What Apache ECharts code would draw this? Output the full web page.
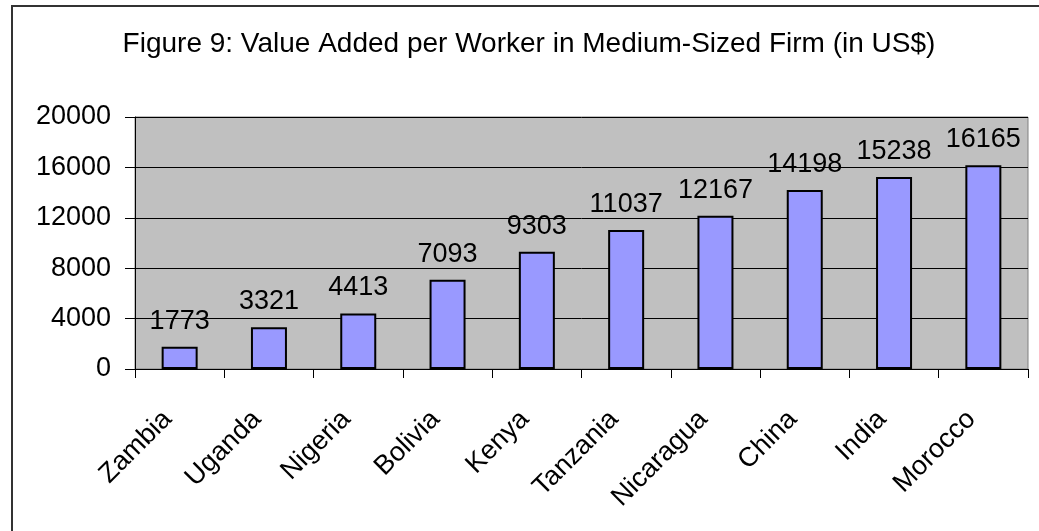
<!DOCTYPE html>
<html>
<head>
<meta charset="utf-8">
<script src="https://cdn.jsdelivr.net/npm/echarts@6/dist/echarts.min.js"></script>
<style>
  html, body { margin: 0; padding: 0; background: #fff; }
  #chart { width: 1039px; height: 531px; }
</style>
</head>
<body>
<div id="chart"></div>
<script>
// 国家（类目）
var countries = ['Zambia', 'Uganda', 'Nigeria', 'Bolivia', 'Kenya', 'Tanzania', 'Nicaragua', 'China', 'India', 'Morocco'];
// 每名工人增加值 (US$)
var valueAdded = [1773, 3321, 4413, 7093, 9303, 11037, 12167, 14198, 15238, 16165];
// Y 轴刻度
var yTicks = [0, 4000, 8000, 12000, 16000, 20000];

var chart = echarts.init(document.getElementById('chart'));
var font = 'Liberation Sans, Arial, sans-serif';

var options = {
  animation: false,
  backgroundColor: '#fff',
  // 外框（只看得到上边和左边）
  graphic: [
    {
      type: 'rect',
      shape: { x: 12, y: 6, width: 1200, height: 700 },
      style: { fill: 'none', stroke: '#333', lineWidth: 2 },
      silent: true
    }
  ],
  title: {
    text: 'Figure 9: Value Added per Worker in Medium-Sized Firm (in US$)',
    left: 524,
    textAlign: 'center',
    top: 25,
    textStyle: { color: '#000', fontSize: 28, fontWeight: 'normal', fontFamily: font }
  },
  grid: {
    left: 135,
    top: 117,
    right: 11,
    bottom: 162,
    show: true,
    backgroundColor: '#C0C0C0',
    borderColor: '#808080',
    borderWidth: 1
  },
  xAxis: {
    type: 'category',
    data: countries,
    axisLine: { lineStyle: { color: '#000', width: 1 } },
    axisTick: { show: true, length: 9, lineStyle: { color: '#000' } },
    axisLabel: {
      rotate: 45,
      interval: 0,
      margin: 34,
      padding: [0, 17, 0, 0],
      color: '#000',
      fontSize: 27,
      fontFamily: font
    }
  },
  yAxis: {
    type: 'value',
    min: yTicks[0],
    max: yTicks[yTicks.length - 1],
    interval: 4000,
    axisLine: { show: true, lineStyle: { color: '#000', width: 1 } },
    axisTick: { show: true, length: 10, lineStyle: { color: '#000' } },
    axisLabel: {
      margin: 24,
      color: '#000',
      fontSize: 27,
      fontFamily: font,
      formatter: function (v) { return String(v); }
    },
    splitLine: { lineStyle: { color: '#000', width: 1 } }
  },
  series: [
    {
      type: 'bar',
      data: valueAdded,
      barWidth: 36,
      itemStyle: { color: '#9999FF', borderColor: '#000', borderWidth: 2 },
      label: {
        show: true,
        position: 'top',
        distance: 12,
        color: '#000',
        fontSize: 27,
        fontFamily: font
      }
    }
  ]
};

chart.setOption(options);
</script>
</body>
</html>
